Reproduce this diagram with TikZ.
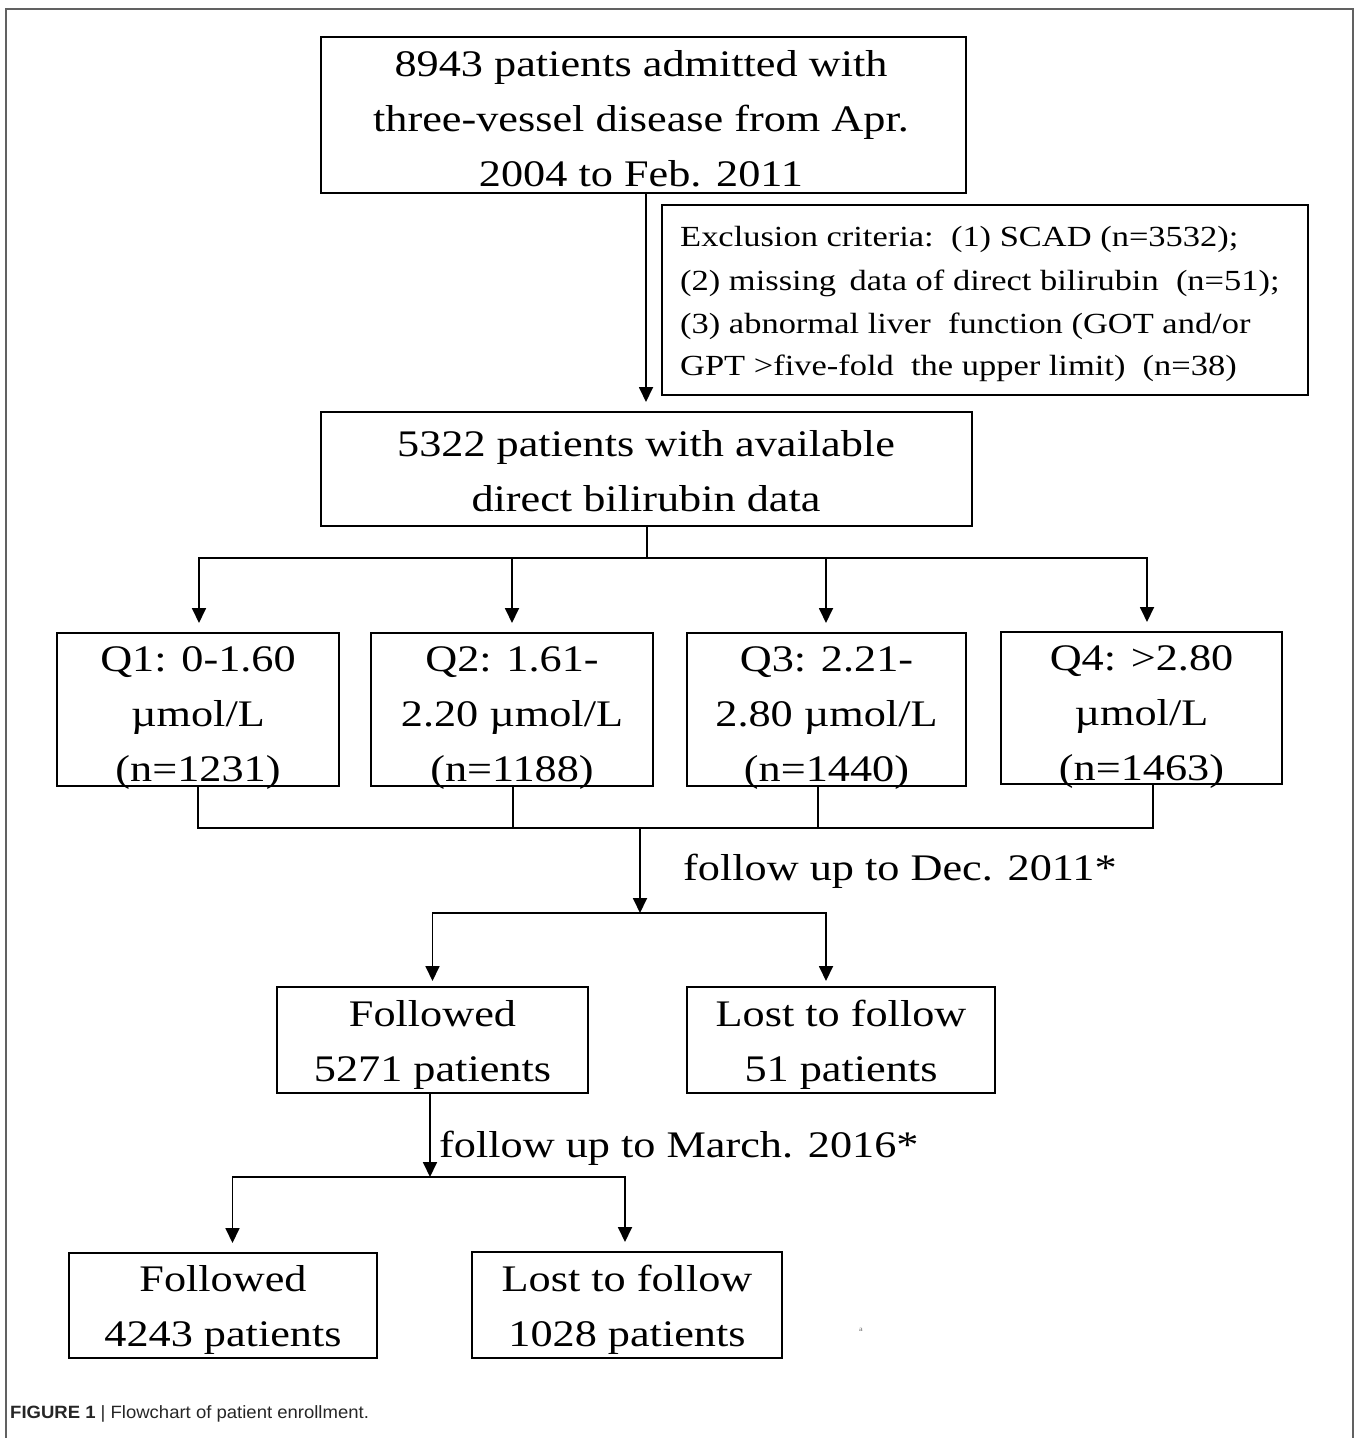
\documentclass[tikz,border=0pt]{standalone}
\usepackage{fontspec}
\setmainfont[FakeStretch=1.18]{Liberation Serif}
\newfontfamily\capfont[FakeStretch=1.04]{Liberation Sans}
\usetikzlibrary{arrows.meta}
\newcommand\mybigfont{\fontsize{37.5}{55}\selectfont}
\newcommand\mysmallfont{\fontsize{29.2}{43}\selectfont}
\begin{document}
\begin{tikzpicture}[x=1pt,y=-1pt,
  box/.style={draw=black, line width=2pt, inner sep=0pt, minimum height=#1},
  box/.default=100pt,
  txt/.style={inner sep=0pt, anchor=base, font=\mybigfont},
  etxt/.style={inner sep=0pt, anchor=base west, font=\mysmallfont},
  conn/.style={line width=1.8pt, line cap=rect},
  arr/.style={line width=1.8pt, -{Triangle[length=15pt,width=14pt]}, shorten >=9pt},
  frame/.style={draw=black!62, line width=2.2pt}]
\useasboundingbox (0,0) rectangle (1358,1438);
% outer frame (open at the bottom)
\draw[frame] (6,1440) -- (6,9) -- (1353,9) -- (1353,1440);

% boxes
\node[box=156pt, minimum width=645pt] (A) at (643.5,115) {};
\node[box=190pt, minimum width=646pt] (B) at (985,300) {};
\node[box=114pt, minimum width=651pt] (C) at (646.5,469) {};
\node[box=153pt, minimum width=282pt] (Q1) at (198,709.5) {};
\node[box=153pt, minimum width=282pt] (Q2) at (512,709.5) {};
\node[box=153pt, minimum width=279pt] (Q3) at (826.5,709.5) {};
\node[box=152pt, minimum width=281pt] (Q4) at (1141.5,708) {};
\node[box=106pt, minimum width=311pt] (F1) at (432.5,1040) {};
\node[box=106pt, minimum width=308pt] (L1) at (841,1040) {};
\node[box=105pt, minimum width=308pt] (F2) at (223,1305.5) {};
\node[box=106pt, minimum width=310pt] (L2) at (627,1305) {};

% texts
\node[txt] (a1) at (641,76.7) {8943 patients admitted with};
\node[txt] (a2) at (641,131.7) {three-vessel disease from Apr.};
\node[txt] (a3) at (641,186.7) {2004 to Feb. 2011};

\node[etxt] (b1) at (680,246.7) {Exclusion criteria:\ \ (1) SCAD (n=3532);};
\node[etxt] (b2) at (680,290) {(2) missing\, data of direct bilirubin\ \ (n=51);};
\node[etxt] (b3) at (680,333) {(3) abnormal liver\ \ function (GOT and/or};
\node[etxt] (b4) at (680,375.5) {GPT >five-fold\ \ the upper limit)\ \ (n=38)};

\node[txt] (c1) at (646,456) {5322 patients with available};
\node[txt] (c2) at (646,511) {direct bilirubin data};

\node[txt] (q1a) at (198,671) {Q1: 0-1.60};
\node[txt] (q1b) at (198,726) {µmol/L};
\node[txt] (q1c) at (198,781.5) {(n=1231)};
\node[txt] (q2a) at (512,671) {Q2: 1.61-};
\node[txt] (q2b) at (512,726) {2.20 µmol/L};
\node[txt] (q2c) at (512,781.5) {(n=1188)};
\node[txt] (q3a) at (826.5,671) {Q3: 2.21-};
\node[txt] (q3b) at (826.5,726) {2.80 µmol/L};
\node[txt] (q3c) at (826.5,781.5) {(n=1440)};
\node[txt] (q4a) at (1141.5,670) {Q4: >2.80};
\node[txt] (q4b) at (1141.5,725) {µmol/L};
\node[txt] (q4c) at (1141.5,780.5) {(n=1463)};

\node[txt] (f1a) at (432.5,1026) {Followed};
\node[txt] (f1b) at (432.5,1081) {5271 patients};
\node[txt] (l1a) at (841,1026) {Lost to follow};
\node[txt] (l1b) at (841,1081) {51 patients};

\node[txt] (f2a) at (223,1291.7) {Followed};
\node[txt] (f2b) at (223,1346.7) {4243 patients};
\node[txt] (l2a) at (627,1291.7) {Lost to follow};
\node[txt] (l2b) at (627,1346.7) {1028 patients};

\node[txt, anchor=base west] (lab1) at (683,880) {follow up to Dec. 2011*};
\node[txt, anchor=base west] (lab2) at (439,1157) {follow up to March. 2016*};

\node[inner sep=0pt, text=black!60, font=\fontsize{7}{8}\selectfont] (mark) at (861,1330) {a};

\node[inner sep=0pt, anchor=base west, text=black!85] (cap) at (10,1418)
  {\capfont\fontsize{17.8}{20}\selectfont\textbf{FIGURE 1} | Flowchart of patient enrollment.};

% connectors
\coordinate (s1) at (647,558);
\coordinate (m1) at (640,828);
\coordinate (m2) at (640,913);
\coordinate (m3) at (430,1177);

\draw[arr] (A.south -| 646,0) -- (C.north -| 646,0);

\draw[conn] (C.south -| s1) -- (s1);
\draw[conn] (199,558) -- (1147,558);
\draw[arr] (199,558) -- (Q1.north -| 199,0);
\draw[arr] (512,558) -- (Q2.north -| 512,0);
\draw[arr] (826,558) -- (Q3.north -| 826,0);
\draw[arr] (1147,558) -- (Q4.north -| 1147,0);

\draw[conn] (Q1.south -| 198,0) -- (198,828);
\draw[conn] (Q2.south -| 513,0) -- (513,828);
\draw[conn] (Q3.south -| 818,0) -- (818,828);
\draw[conn] (Q4.south -| 1153,0) -- (1153,828);
\draw[conn] (198,828) -- (1153,828);
\draw[arr, shorten >=0pt] (m1) -- (m2);
\draw[conn] (432.5,913) -- (826,913);
\draw[arr, shorten >=5pt] (432.5,913) -- (F1.north -| 432.5,0);
\draw[arr, shorten >=5pt] (826,913) -- (L1.north -| 826,0);

\draw[arr, shorten >=0pt] (F1.south -| m3) -- (m3);
\draw[conn] (232.5,1177) -- (625,1177);
\draw[arr] (232.5,1177) -- (F2.north -| 232.5,0);
\draw[arr] (625,1177) -- (L2.north -| 625,0);
\end{tikzpicture}
\end{document}
